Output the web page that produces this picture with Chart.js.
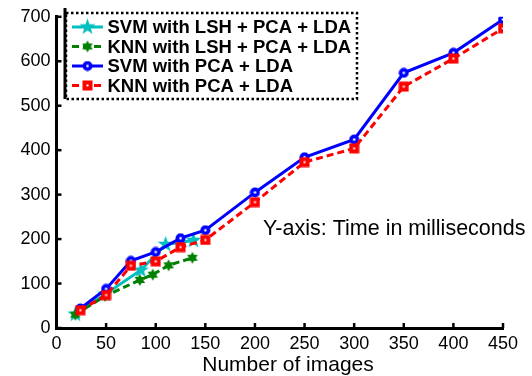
<!DOCTYPE html>
<html>
<head>
<meta charset="utf-8">
<script src="https://cdn.jsdelivr.net/npm/chart.js@4.4.0/dist/chart.umd.min.js"></script>
<style>
  html, body { margin: 0; padding: 0; background: #fff; overflow: hidden; }
  canvas { display: block; }
</style>
</head>
<body>
<canvas id="chart" width="532" height="376"></canvas>
<script>
// data
const lshSvmX = [19, 49, 85, 110, 138];
const lshSvmY = [31, 76, 130, 188, 197];
const lshKnnX = [19, 49, 84, 97, 113, 137];
const lshKnnY = [30, 72, 108, 120, 141, 158];
const pcaX = [24, 50, 75, 100, 125, 150, 200, 250, 300, 350, 400, 450];
const pcaSvmY = [44, 88, 151, 171, 202, 220, 305, 384, 424, 574, 619, 694];
const pcaKnnY = [40, 74, 140, 150, 182, 198, 283, 373, 404, 543, 606, 674];
const seriesNames = ['SVM with LSH + PCA + LDA', 'KNN with LSH + PCA + LDA', 'SVM with PCA + LDA', 'KNN with PCA + LDA'];
const xTicks = [0, 50, 100, 150, 200, 250, 300, 350, 400, 450];
const yTicks = [0, 100, 200, 300, 400, 500, 600, 700];
const xTitle = 'Number of images';
const note = 'Y-axis: Time in milliseconds';

const CYAN = '#00BFBF', GREEN = '#008000', BLUE = '#0000FF', RED = '#FF0000';

function pairs(xs, ys) { return xs.map((x, i) => ({ x: x, y: ys[i] })); }

function makeCanvas(s) {
  const c = document.createElement('canvas');
  c.width = s; c.height = s;
  return c;
}

// star shaped markers
function starMarker(points, outer, inner, color) {
  const s = Math.ceil(outer * 2 + 2);
  const c = makeCanvas(s);
  const g = c.getContext('2d');
  g.translate(s / 2, s / 2);
  g.beginPath();
  for (let i = 0; i < points * 2; i++) {
    const r = i % 2 === 0 ? outer : inner;
    const a = -Math.PI / 2 + i * Math.PI / points;
    if (i === 0) g.moveTo(r * Math.cos(a), r * Math.sin(a));
    else g.lineTo(r * Math.cos(a), r * Math.sin(a));
  }
  g.closePath();
  g.fillStyle = color;
  g.fill();
  return c;
}

// thick outlined markers with a small white centre
function dotMarker(color) {
  const c = makeCanvas(11);
  const g = c.getContext('2d');
  g.fillStyle = color;
  g.beginPath(); g.arc(5.5, 5.5, 5, 0, Math.PI * 2); g.fill();
  g.fillStyle = '#fff';
  g.beginPath(); g.arc(5.5, 5.5, 1.3, 0, Math.PI * 2); g.fill();
  return c;
}
function squareMarker(color) {
  const c = makeCanvas(11);
  const g = c.getContext('2d');
  g.fillStyle = color;
  g.fillRect(0.5, 0.5, 10, 10);
  g.fillStyle = '#fff';
  g.fillRect(4.5, 4.5, 2, 2);
  return c;
}

const pentagram = starMarker(5, 8.5, 3.4, CYAN);
const hexagram = starMarker(6, 6, 3.4, GREEN);
const circleMark = dotMarker(BLUE);
const squareMark = squareMarker(RED);
const markers = [pentagram, hexagram, circleMark, squareMark];

// inward ticks, dotted legend, axis title and note text
const decor = {
  id: 'decor',
  afterDraw(chart) {
    const ctx = chart.ctx;
    const xs = chart.scales.x, ys = chart.scales.y;
    const area = chart.chartArea;
    ctx.save();
    ctx.strokeStyle = '#000';
    ctx.lineWidth = 2.5;
    xTicks.forEach(v => {
      const px = xs.getPixelForValue(v);
      ctx.beginPath(); ctx.moveTo(px, area.bottom); ctx.lineTo(px, area.bottom - 5); ctx.stroke();
    });
    yTicks.forEach(v => {
      const py = ys.getPixelForValue(v);
      ctx.beginPath(); ctx.moveTo(area.left, py); ctx.lineTo(area.left + 5, py); ctx.stroke();
    });

    // legend box
    const bx = 66, by = 13, bw = 291, bh = 86;
    ctx.fillStyle = '#fff';
    ctx.fillRect(bx, by, bw, bh);
    ctx.setLineDash([2.5, 2.5]);
    ctx.lineWidth = 2.5;
    ctx.strokeRect(bx, by, bw, bh);
    ctx.setLineDash([]);
    ctx.lineWidth = 3;
    ctx.beginPath(); ctx.moveTo(65, 8); ctx.lineTo(65, 99); ctx.stroke();

    const colors = [CYAN, GREEN, BLUE, RED];
    const dashes = [[], [7, 4], [], [7, 4]];
    const rowY = [27, 46.5, 66, 85.5];
    ctx.font = 'bold 18.5px "Liberation Sans", Arial, sans-serif';
    ctx.textBaseline = 'middle';
    seriesNames.forEach((name, i) => {
      const y = rowY[i];
      ctx.strokeStyle = colors[i];
      ctx.lineWidth = 3;
      ctx.setLineDash(dashes[i]);
      ctx.beginPath(); ctx.moveTo(72, y); ctx.lineTo(103, y); ctx.stroke();
      ctx.setLineDash([]);
      const m = markers[i];
      ctx.drawImage(m, 87.5 - m.width / 2, y - m.height / 2);
      ctx.fillStyle = '#000';
      ctx.fillText(name, 107.5, y + 1);
    });

    ctx.font = '21.5px "Liberation Sans", Arial, sans-serif';
    ctx.fillStyle = '#000';
    ctx.fillText(note, 263, 229);

    ctx.textAlign = 'center';
    ctx.font = '21px "Liberation Sans", Arial, sans-serif';
    ctx.fillText(xTitle, 288, 365);
    ctx.restore();
  }
};

const common = { fill: false, tension: 0, borderWidth: 3 };

new Chart(document.getElementById('chart'), {
  type: 'line',
  data: {
    datasets: [
      Object.assign({}, common, {
        label: seriesNames[0], data: pairs(lshSvmX, lshSvmY), borderColor: CYAN,
        pointStyle: pentagram, order: 4
      }),
      Object.assign({}, common, {
        label: seriesNames[1], data: pairs(lshKnnX, lshKnnY), borderColor: GREEN,
        borderDash: [7, 4], pointStyle: hexagram, order: 3
      }),
      Object.assign({}, common, {
        label: seriesNames[2], data: pairs(pcaX, pcaSvmY), borderColor: BLUE,
        pointStyle: circleMark, order: 2
      }),
      Object.assign({}, common, {
        label: seriesNames[3], data: pairs(pcaX, pcaKnnY), borderColor: RED,
        borderDash: [7, 4], pointStyle: squareMark, order: 1
      })
    ]
  },
  options: {
    responsive: false,
    animation: false,
    devicePixelRatio: 1,
    layout: { padding: { top: 7, right: 29, left: 0, bottom: 0 } },
    plugins: { legend: { display: false }, tooltip: { enabled: false } },
    scales: {
      x: {
        type: 'linear', min: 0, max: 450,
        afterBuildTicks: s => { s.ticks = xTicks.map(v => ({ value: v })); },
        afterFit: s => { s.height = 48; },
        grid: { drawOnChartArea: false, drawTicks: false },
        border: { color: '#000', width: 3 },
        ticks: { color: '#000', padding: 5, maxRotation: 0, font: { family: '"Liberation Sans", Arial', size: 18 } }
      },
      y: {
        type: 'linear', min: 0, max: 700,
        afterBuildTicks: s => { s.ticks = yTicks.map(v => ({ value: v })); },
        afterFit: s => { s.width = 56.5; },
        grid: { drawOnChartArea: false, drawTicks: false },
        border: { color: '#000', width: 3 },
        ticks: { color: '#000', padding: 6, font: { family: '"Liberation Sans", Arial', size: 18 } }
      }
    }
  },
  plugins: [decor]
});
</script>
</body>
</html>
